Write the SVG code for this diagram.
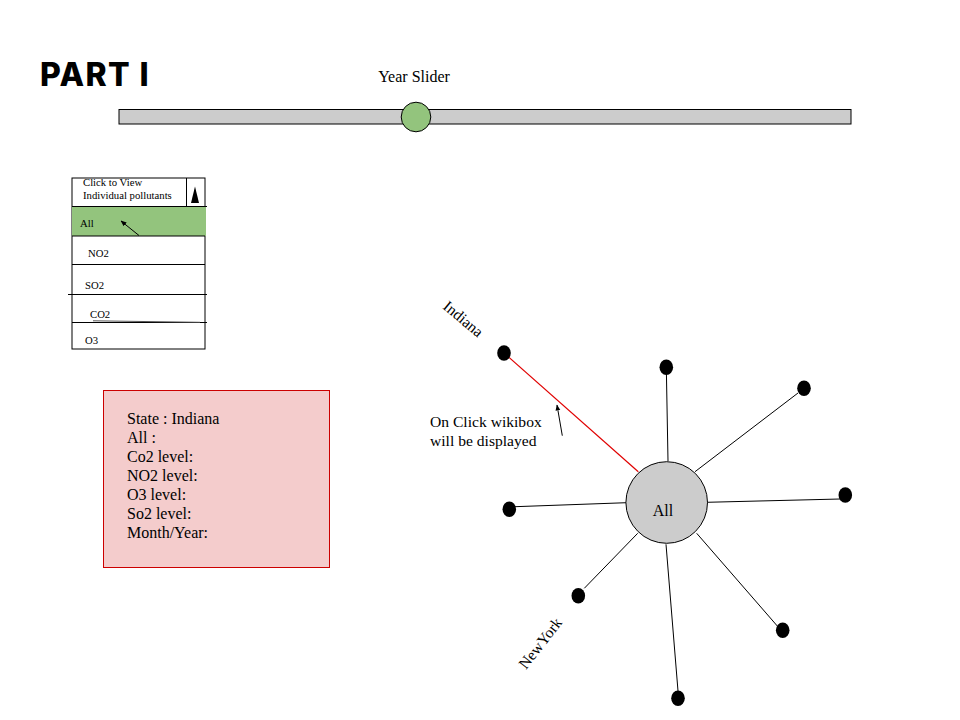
<svg xmlns="http://www.w3.org/2000/svg" width="960" height="720" viewBox="0 0 960 720">
<defs>
<style>
.t{font-family:"Liberation Serif","Times New Roman",serif;fill:#000}
.s15{font-size:15.6px}
.s16{font-size:16px}
.s10{font-size:10.7px}
.ln{stroke:#000;stroke-width:1;fill:none}
.leaf{fill:#000}
</style>
<marker id="ah" viewBox="0 0 10 10" refX="9" refY="5" markerWidth="6" markerHeight="6" orient="auto-start-reverse">
<path d="M0,1 L10,5 L0,9 z" fill="#000"/>
</marker>
</defs>
<rect width="960" height="720" fill="#fff"/>
<g id="title"><text x="40" y="86" font-family="Inter,'Open Sans',sans-serif" font-weight="800" font-size="32" letter-spacing="1.4">PART I</text></g>
<g id="slider">
<text class="t s16" x="414" y="82" text-anchor="middle">Year Slider</text>
<rect x="119" y="109.5" width="732" height="14.5" fill="#cccccc" stroke="#000"/>
<circle cx="416" cy="117" r="14.8" fill="#93c47d" stroke="#000"/>
</g>
<g id="dropdown">
<rect x="72" y="178" width="133" height="171" fill="#fff" stroke="#000"/>
<rect x="72" y="207" width="134" height="29" fill="#93c47d"/>
<line class="ln" x1="72" y1="206.5" x2="207" y2="206.5"/>
<line class="ln" x1="186.5" y1="178" x2="186.5" y2="206"/>
<path d="M195,186.5 L199,203 L191,203 z" fill="#000"/>
<line class="ln" x1="72" y1="236" x2="205" y2="236"/>
<line class="ln" x1="72" y1="264.5" x2="205" y2="264.5"/>
<line class="ln" x1="68" y1="294.5" x2="207" y2="294.5"/>
<line class="ln" x1="72" y1="322.5" x2="207" y2="322.5"/>
<line x1="93" y1="320.8" x2="200" y2="322.3" stroke="#555" stroke-width="1"/>
<text class="t s10" x="83" y="186">Click to View</text>
<text class="t s10" x="83" y="199">Individual pollutants</text>
<text class="t s10" x="80" y="227">All</text>
<text class="t s10" x="88" y="257">NO2</text>
<text class="t s10" x="85" y="289">SO2</text>
<text class="t s10" x="90" y="318">CO2</text>
<text class="t s10" x="85" y="344">O3</text>
<line class="ln" x1="139" y1="235.5" x2="121" y2="221" marker-end="url(#ah)"/>
</g>
<g id="wikibox">
<rect x="103.5" y="390.5" width="226" height="177" fill="#f4cccc" stroke="#cc0000"/>
<text class="t s16" x="127" y="424">State : Indiana</text>
<text class="t s16" x="127" y="443">All :</text>
<text class="t s16" x="127" y="462">Co2 level:</text>
<text class="t s16" x="127" y="481">NO2 level:</text>
<text class="t s16" x="127" y="500">O3 level:</text>
<text class="t s16" x="127" y="519">So2 level:</text>
<text class="t s16" x="127" y="538">Month/Year:</text>
</g>
<g id="connectors">
<line x1="504" y1="353" x2="638.3" y2="471.7" stroke="#e00000" stroke-width="1.2"/>
<line class="ln" x1="666.3" y1="367" x2="668" y2="461"/>
<line class="ln" x1="798" y1="393" x2="695" y2="471.7"/>
<line class="ln" x1="840" y1="499" x2="706.7" y2="502.3"/>
<line class="ln" x1="515" y1="506.7" x2="626.7" y2="502.7"/>
<line class="ln" x1="584.3" y1="588.3" x2="637.7" y2="533.3"/>
<line class="ln" x1="777.3" y1="626" x2="696.7" y2="533.3"/>
<line class="ln" x1="678" y1="691" x2="666" y2="544.3"/>
<line class="ln" x1="562.3" y1="435.7" x2="557" y2="405" marker-end="url(#ah)"/>
</g>
<g id="hub">
<circle cx="666.7" cy="502.5" r="40.8" fill="#cccccc" stroke="#000"/>
<text class="t s16" x="663" y="516" text-anchor="middle">All</text>
</g>
<g id="leaf-indiana"><ellipse class="leaf" cx="504" cy="353" rx="6.8" ry="7.8"/></g>
<g id="leaf-top"><ellipse class="leaf" cx="666.3" cy="367.3" rx="6.8" ry="7.8"/></g>
<g id="leaf-ur"><ellipse class="leaf" cx="804" cy="388.3" rx="6.8" ry="7.8"/></g>
<g id="leaf-right"><ellipse class="leaf" cx="845.3" cy="495" rx="6.8" ry="7.8"/></g>
<g id="leaf-left"><ellipse class="leaf" cx="509.3" cy="509.3" rx="6.8" ry="7.8"/></g>
<g id="leaf-newyork"><ellipse class="leaf" cx="578.3" cy="595.7" rx="6.8" ry="7.8"/></g>
<g id="leaf-br"><ellipse class="leaf" cx="782.7" cy="630.3" rx="6.8" ry="7.8"/></g>
<g id="leaf-bottom"><ellipse class="leaf" cx="678" cy="698.3" rx="6.8" ry="7.8"/></g>
<g id="labels">
<text class="t s15" transform="translate(442,308) rotate(40)">Indiana</text>
<text class="t s15" transform="translate(526,670) rotate(-52)">NewYork</text>
<text class="t s15" x="430" y="427">On Click wikibox</text>
<text class="t s15" x="430" y="446">will be displayed</text>
</g>
</svg>
